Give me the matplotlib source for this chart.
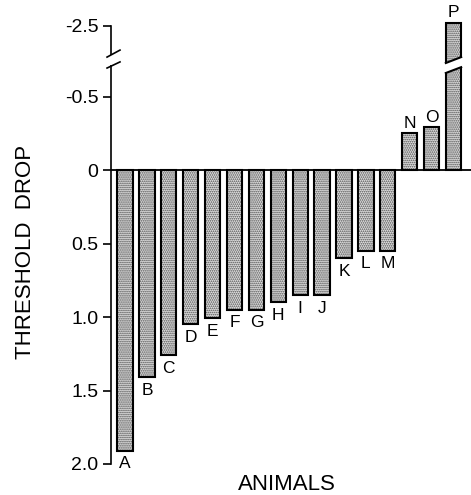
import numpy as np
import matplotlib.pyplot as plt
from matplotlib.patches import Polygon
from matplotlib.transforms import blended_transform_factory

plt.rcParams['font.family'] = ['Liberation Sans', 'DejaVu Sans']
plt.rcParams['axes.unicode_minus'] = False
plt.rcParams['hatch.linewidth'] = 0.8

animals = list("ABCDEFGHIJKLMNOP")
drop = [1.91, 1.41, 1.26, 1.05, 1.01, 0.95, 0.95, 0.90, 0.85, 0.85,
        0.60, 0.55, 0.55, -0.25, -0.29, -2.52]
yticks = [-2.5, -0.5, 0, 0.5, 1.0, 1.5, 2.0]
ytick_labels = ["-2.5", "-0.5", "0", "0.5", "1.0", "1.5", "2.0"]

# broken axis: values between -0.72 and -2.30 are squeezed into a small gap
b_hi, b_lo = -0.72, -2.30
p_hi, p_lo = -0.72, -0.78


def fwd(v):
    v = np.asarray(v, dtype=float)
    mid = p_hi + (v - b_hi) * (p_lo - p_hi) / (b_lo - b_hi)
    return np.where(v >= b_hi, v, np.where(v <= b_lo, v - b_lo + p_lo, mid))


def inv(p):
    p = np.asarray(p, dtype=float)
    mid = b_hi + (p - p_hi) * (b_lo - b_hi) / (p_lo - p_hi)
    return np.where(p >= p_hi, p, np.where(p <= p_lo, p - p_lo + b_lo, mid))


fig = plt.figure(figsize=(4.71, 4.95), dpi=100)
ax = fig.add_axes([111 / 471, 31 / 495, 360 / 471, 438 / 495])
ax.set_yscale('function', functions=(fwd, inv))

x = np.arange(len(animals))
ax.bar(x, drop, width=0.70, color='#e0e0e0', edgecolor='#4a4a4a',
       hatch='........', linewidth=0, zorder=2, clip_on=False)
ax.bar(x, drop, width=0.70, color='none', edgecolor='black',
       linewidth=1.5, zorder=3, clip_on=False)

ax.set_xlim(-0.64, 15.80)
ax.set_ylim(2.0, -2.5)
ax.axhline(0, color='black', lw=1.3, zorder=4)

for xi, name, v in zip(x, animals, drop):
    if v > 0:
        ax.annotate(name, (xi, v), xytext=(0, -4), textcoords='offset points',
                    ha='center', va='top', fontsize=12.5, annotation_clip=False)
    else:
        ax.annotate(name, (xi, v), xytext=(0, 2), textcoords='offset points',
                    ha='center', va='bottom', fontsize=12.5, annotation_clip=False)

for s in ['top', 'right', 'bottom']:
    ax.spines[s].set_visible(False)
ax.spines['left'].set_linewidth(1.2)
ax.set_xticks([])
ax.set_yticks(yticks)
ax.set_yticklabels(ytick_labels, fontsize=14)
ax.tick_params(axis='y', direction='out', length=6, width=1.2, pad=3)

# break marks on the axis (axes-fraction coordinates)
ta = ax.transAxes
ax.add_patch(Polygon([(-0.02, 0.912), (0.03, 0.912), (0.03, 0.934), (-0.02, 0.934)],
                     closed=True, transform=ta, facecolor='white',
                     edgecolor='none', zorder=6, clip_on=False))
for y0, y1 in ((0.929, 0.945), (0.904, 0.918)):
    ax.plot([-0.011, 0.025], [y0, y1], transform=ta, color='black',
            lw=1.2, zorder=7, clip_on=False)

# break through the tall bar P
tb = blended_transform_factory(ax.transData, ax.transAxes)
xp, hw = x[-1], 0.35
ax.add_patch(Polygon([(xp - hw - 0.1, 0.892), (xp + hw + 0.1, 0.906),
                      (xp + hw + 0.1, 0.929), (xp - hw - 0.1, 0.9155)],
                     closed=True, transform=tb, facecolor='white',
                     edgecolor='none', zorder=5))
for y0, y1 in ((0.8927, 0.906), (0.9155, 0.929)):
    ax.plot([xp - hw, xp + hw], [y0, y1], transform=tb, color='black',
            lw=1.5, zorder=6, solid_capstyle='projecting')

fig.text(26 / 471, 1 - 252 / 495, 'THRESHOLD  DROP', rotation=90,
         ha='center', va='center', fontsize=16)
fig.text(287 / 471, 1 - 484 / 495, 'ANIMALS', ha='center', va='center',
         fontsize=16)

fig.savefig('out.png', dpi=100)
